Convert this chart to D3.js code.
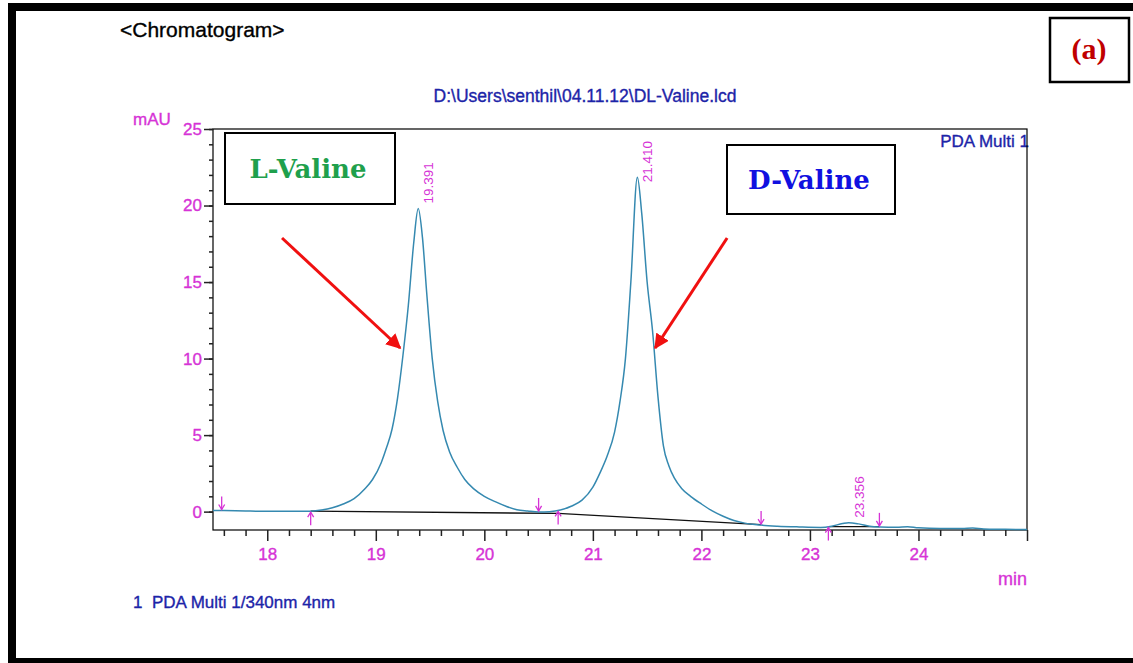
<!DOCTYPE html>
<html><head><meta charset="utf-8">
<script src="https://cdn.jsdelivr.net/npm/d3@7"></script>
<style>
html,body{margin:0;padding:0;background:#fff;}
svg{display:block;font-family:"Liberation Sans",Arial,sans-serif;}
.hv{stroke-width:0.35px;paint-order:stroke;}
</style></head><body>
<svg id="c" width="1133" height="663"></svg>
<script>
// ---- data ----
const times  = [17.5,17.6,17.8,18.0,18.2,18.4,18.5,18.6,18.7,18.8,18.9,18.97,19.05,19.1,19.15,19.2,19.25,19.3,19.35,19.391,19.43,19.47,19.52,19.57,19.62,19.68,19.75,19.82,19.9,20.0,20.1,20.2,20.3,20.4,20.5,20.6,20.7,20.8,20.9,21.0,21.07,21.13,21.2,21.25,21.3,21.35,21.41,21.45,21.5,21.55,21.6,21.65,21.7,21.75,21.82,21.9,22.0,22.1,22.2,22.3,22.4,22.55,22.7,22.9,23.1,23.2,23.3,23.356,23.45,23.55,23.65,23.8,23.9,24.0,24.2,24.4,24.5,24.6,24.8,25.0];
const signal = [0.08,0.07,0.04,0.02,0.02,0.03,0.1,0.25,0.5,0.85,1.5,2.1,3.2,4.2,5.4,7.4,10.2,13.5,17.6,19.8,17.9,14.2,10.0,7.2,5.3,3.9,2.9,2.1,1.5,1.0,0.65,0.35,0.12,0.04,-0.02,0.0,0.1,0.35,0.75,1.6,2.6,3.6,5.2,7.2,10.0,15.0,21.85,19.5,15.0,11.8,7.5,4.3,3.0,2.2,1.5,1.0,0.5,0.05,-0.3,-0.58,-0.75,-0.88,-0.95,-1.0,-1.03,-0.95,-0.78,-0.72,-0.8,-0.95,-1.0,-1.02,-0.98,-1.06,-1.1,-1.1,-1.07,-1.13,-1.15,-1.17];
const peakTimes  = [19.391, 21.410, 23.356];
const peakLabels = ["19.391", "21.410", "23.356"];
const downMarks = [17.58, 20.50, 22.55, 23.64];
const upMarks   = [18.40, 20.68, 23.17];
const baseT = [[18.40, 20.68], [20.68, 22.55], [23.17, 23.64]];
const baseV = [[0.03, -0.12], [-0.12, -0.85], [-0.98, -0.98]];
const xMajor = [18, 19, 20, 21, 22, 23, 24, 25];
const xMajorLabels = ["18", "19", "20", "21", "22", "23", "24", ""];
const yMajor = [0, 5, 10, 15, 20, 25];
const yMajorLabels = ["0", "5", "10", "15", "20", "25"];
const annoNames = ["L-Valine", "D-Valine"];
const annoFrom = [[18.136, 17.88], [22.237, 17.88]];
const annoTo   = [[19.224, 10.69], [21.574, 10.69]];

const MAG = "#d633d6", BLUE = "#1c24a8", LINE = "#3589b0";
const svg = d3.select("#c");
svg.append("rect").attr("width",1133).attr("height",663).attr("fill","#fff");

const x = d3.scaleLinear().domain([17.5, 25]).range([213, 1027]);
const y = d3.scaleLinear().domain([-1.2, 25]).range([530, 129]);

function valueAt(t){
  const i = Math.max(1, Math.min(times.length-1, d3.bisectLeft(times, t)));
  const t0=times[i-1], t1=times[i];
  return signal[i-1] + (signal[i]-signal[i-1])*(t-t0)/(t1-t0);
}

// outer frame
svg.append("rect").attr("x",12).attr("y",7).attr("width",1300).attr("height",655)
  .attr("fill","none").attr("stroke","#000").attr("stroke-width",8);

// texts
svg.append("text").attr("class","hv").attr("x",120).attr("y",37).attr("font-size",21).attr("fill","#000").attr("stroke","#000").text("<Chromatogram>");
svg.append("text").attr("class","hv").attr("x",585).attr("y",102).attr("text-anchor","middle").attr("font-size",17.5).attr("fill",BLUE).attr("stroke",BLUE)
  .text("D:\\Users\\senthil\\04.11.12\\DL-Valine.lcd");
svg.append("text").attr("class","hv").attr("x",133).attr("y",125).attr("font-size",17).attr("fill",MAG).attr("stroke",MAG).text("mAU");
svg.append("text").attr("class","hv").attr("x",1029).attr("y",147).attr("text-anchor","end").attr("font-size",17).attr("fill",BLUE).attr("stroke",BLUE).text("PDA Multi 1");
svg.append("text").attr("class","hv").attr("x",998).attr("y",585).attr("font-size",18).attr("fill",MAG).attr("stroke",MAG).text("min");
svg.append("text").attr("class","hv").attr("x",133).attr("y",608).attr("font-size",17).attr("fill",BLUE).attr("stroke",BLUE)
  .attr("xml:space","preserve").style("white-space","pre").text("1  PDA Multi 1/340nm 4nm");

// (a) box
svg.append("rect").attr("x",1050).attr("y",18).attr("width",79).attr("height",64)
  .attr("fill","#fff").attr("stroke","#000").attr("stroke-width",2.5);
svg.append("text").attr("x",1089).attr("y",59).attr("text-anchor","middle")
  .attr("font-family","'Liberation Serif',serif").attr("font-weight","bold").attr("font-size",30).attr("fill","#c00000").text("(a)");

// plot frame
svg.append("rect").attr("x",x(17.5)).attr("y",y(25)).attr("width",x(25)-x(17.5)).attr("height",y(-1.2)-y(25))
  .attr("fill","none").attr("stroke","#000").attr("stroke-width",1.2);

// axes
const gx = svg.append("g").attr("transform",`translate(0,${y(-1.2)})`);
gx.append("g").call(d3.axisBottom(x).tickValues(d3.range(17.6, 25, 0.2).filter(v=>Math.abs(v-Math.round(v))>0.01)).tickSize(6).tickFormat(""));
gx.append("g").call(d3.axisBottom(x).tickValues(xMajor).tickSize(11).tickPadding(7).tickFormat((d,i)=>xMajorLabels[i]));
gx.selectAll(".domain").remove();
gx.selectAll("line").attr("stroke","#222").attr("stroke-width",1.5);
gx.selectAll("text").attr("class","hv").attr("font-size",17).attr("fill",MAG).attr("stroke",MAG).attr("font-family","'Liberation Sans',Arial,sans-serif");

const gy = svg.append("g").attr("transform",`translate(${x(17.5)},0)`);
gy.append("g").call(d3.axisLeft(y).tickValues(d3.range(0, 26, 1)).tickSize(4).tickFormat(""));
gy.append("g").call(d3.axisLeft(y).tickValues(yMajor).tickSize(9).tickPadding(2).tickFormat((d,i)=>yMajorLabels[i]));
gy.selectAll(".domain").remove();
gy.selectAll("line").attr("stroke","#222").attr("stroke-width",1.5);
gy.selectAll("text").attr("class","hv").attr("font-size",17).attr("fill",MAG).attr("stroke",MAG).attr("font-family","'Liberation Sans',Arial,sans-serif");

// baselines
baseT.forEach((seg,i)=>{
  svg.append("line").attr("x1",x(seg[0])).attr("x2",x(seg[1]))
    .attr("y1",y(baseV[i][0])).attr("y2",y(baseV[i][1]))
    .attr("stroke","#111").attr("stroke-width",1.3);
});

// signal
const line = d3.line().x((d,i)=>x(times[i])).y((d,i)=>y(signal[i])).curve(d3.curveMonotoneX);
svg.append("path").datum(signal).attr("d",line).attr("fill","none").attr("stroke",LINE).attr("stroke-width",1.5);

// integration markers
downMarks.forEach(t=>{
  const px=x(t), py=y(valueAt(t))-1;
  svg.append("line").attr("x1",px).attr("x2",px).attr("y1",py-13).attr("y2",py).attr("stroke",MAG).attr("stroke-width",1.3);
  svg.append("path").attr("d",`M${px-3},${py-5}L${px},${py}L${px+3},${py-5}`).attr("fill","none").attr("stroke",MAG).attr("stroke-width",1.3);
});
upMarks.forEach(t=>{
  const px=x(t), py=y(valueAt(t))+1;
  svg.append("line").attr("x1",px).attr("x2",px).attr("y1",py).attr("y2",py+13).attr("stroke",MAG).attr("stroke-width",1.3);
  svg.append("path").attr("d",`M${px-3},${py+5}L${px},${py}L${px+3},${py+5}`).attr("fill","none").attr("stroke",MAG).attr("stroke-width",1.3);
});

// peak labels
peakTimes.forEach((t,i)=>{
  const px=x(t)+15, py=y(valueAt(t))+(i===1?5:-5);
  svg.append("text").attr("transform",`translate(${px},${py}) rotate(-90)`)
    .attr("font-size",13.5).attr("fill",MAG).text(peakLabels[i]);
});

// annotation boxes
const boxes = [{x:225,y:133,w:170,h:71,color:"#1fa04c"},{x:727,y:145,w:168,h:69,color:"#1010e0"}];
boxes.forEach((b,i)=>{
  svg.append("rect").attr("x",b.x).attr("y",b.y).attr("width",b.w).attr("height",b.h)
    .attr("fill","#fff").attr("stroke","#000").attr("stroke-width",2);
  svg.append("text").attr("x",b.x+b.w/2-2).attr("y",b.y+b.h/2+9).attr("text-anchor","middle")
    .attr("font-family","'DejaVu Serif',serif").attr("font-weight","bold").attr("font-size",26)
    .attr("fill",b.color).text(annoNames[i]);
});

// red arrows
svg.append("defs").append("marker").attr("id","ah").attr("viewBox","0 0 10 10").attr("refX",9).attr("refY",5)
  .attr("markerWidth",5).attr("markerHeight",5).attr("orient","auto").attr("markerUnits","strokeWidth")
  .append("path").attr("d","M0,0L10,5L0,10Z").attr("fill","#f01010");
annoFrom.forEach((f,i)=>{
  svg.append("line").attr("x1",x(f[0])).attr("y1",y(f[1])).attr("x2",x(annoTo[i][0])).attr("y2",y(annoTo[i][1]))
    .attr("stroke","#f01010").attr("stroke-width",3).attr("marker-end","url(#ah)");
});
</script>
</body></html>
